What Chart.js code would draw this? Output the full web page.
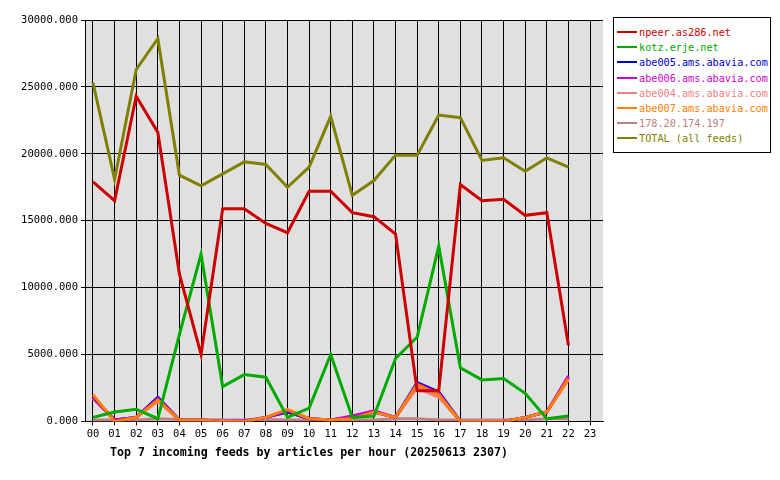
<!DOCTYPE html>
<html><head><meta charset="utf-8">
<script src="https://cdn.jsdelivr.net/npm/chart.js@4/dist/chart.umd.min.js"></script>
<style>
body{margin:0;background:#fff;}
#wrap{position:relative;width:780px;height:480px;}
#legend{position:absolute;left:613px;top:17px;width:158px;height:136px;border:1px solid #000;box-sizing:border-box;background:#fff;font:10.2px "DejaVu Sans Mono",monospace;padding-top:7px;}
#legend div{height:15.2px;line-height:15px;white-space:nowrap;padding-left:3px;}
#legend span.sw{display:inline-block;width:20px;height:2px;vertical-align:middle;margin-right:2px;position:relative;top:-1px;}
#title{position:absolute;left:110px;top:445px;font:bold 11.6px "DejaVu Sans Mono",monospace;}
</style></head><body>
<div id="wrap"><canvas id="c" width="780" height="480"></canvas><div id="legend"></div><div id="title">Top 7 incoming feeds by articles per hour (20250613 2307)</div></div>
<script>
const hours = ["00","01","02","03","04","05","06","07","08","09","10","11","12","13","14","15","16","17","18","19","20","21","22","23"];
const seriesNames = ["npeer.as286.net","kotz.erje.net","abe005.ams.abavia.com","abe006.ams.abavia.com","abe004.ams.abavia.com","abe007.ams.abavia.com","178.20.174.197","TOTAL (all feeds)"];
const seriesColors = ["#cc0000","#00aa00","#0000cc","#cc00cc","#f08080","#ff8000","#c08080","#808000"];
const npeer = [17900,16500,24300,21600,11000,5000,15900,15900,14800,14100,17200,17200,15600,15300,14000,2300,2300,17700,16500,16600,15400,15600,5700];
const kotz = [300,700,900,200,6500,12500,2600,3500,3300,300,1000,5000,300,400,4700,6300,13100,4000,3100,3200,2100,200,400];
const abe005 = [1800,100,300,1800,100,100,0,0,300,700,200,100,300,700,300,2900,2200,0,0,0,300,700,3300];
const abe006 = [1800,100,300,1700,100,100,0,50,300,800,200,100,400,800,300,2800,2100,0,0,0,300,700,3400];
const abe004 = [1700,100,300,1500,100,100,0,0,300,800,200,100,300,700,300,2500,1800,0,0,0,300,700,3100];
const abe007 = [2000,0,300,1600,100,100,0,0,300,900,200,100,200,700,300,2750,2000,0,0,0,300,700,3200];
const ip178 = [100,100,100,200,150,150,100,100,150,100,100,150,100,100,200,200,100,100,100,100,100,200,200];
const total = [25300,18100,26300,28600,18400,17600,18500,19400,19200,17500,19000,22800,16900,18000,19900,19900,22900,22700,19500,19700,18700,19700,19000];
const allData = [npeer,kotz,abe005,abe006,abe004,abe007,ip178,total];
const yTicks = [0,5000,10000,15000,20000,25000,30000];

// dataset 0 is drawn on top in Chart.js
const order = [7,0,1,5,3,2,4,6];
const datasets = order.map(i=>({
  label: seriesNames[i],
  data: allData[i].map((v,k)=>({x:k,y:v})),
  borderColor: seriesColors[i],
  borderWidth: 3, pointRadius: 0, tension: 0, fill:false
}));

const lg=document.getElementById('legend');
seriesNames.forEach((n,i)=>{const d=document.createElement('div');d.style.color=seriesColors[i];d.innerHTML='<span class="sw" style="background:'+seriesColors[i]+'"></span>'+n;lg.appendChild(d);});

const bg={id:'bg',beforeDraw(ch){const a=ch.chartArea,c=ch.ctx;c.save();c.fillStyle='#e0e0e0';c.fillRect(a.left,a.top,a.right-a.left,a.bottom-a.top);c.restore();}};

new Chart(document.getElementById('c'),{
  type:'line',
  data:{datasets},
  plugins:[bg],
  options:{
    responsive:false, animation:false,
    layout:{padding:{left:0,right:177,top:20,bottom:36}},
    plugins:{legend:{display:false},tooltip:{enabled:false}},
    scales:{
      x:{type:'linear',min:-0.37,max:23.6,
        afterBuildTicks(ax){ax.ticks=hours.map((h,i)=>({value:i}));},
        ticks:{color:'#000',font:{family:'DejaVu Sans Mono',size:10.5},maxRotation:0,autoSkip:false,callback:(v)=>hours[v]},
        grid:{color:'#000',lineWidth:1,drawTicks:true,tickLength:4},
        border:{color:'#000'}},
      y:{min:0,max:30000,
        afterBuildTicks(ax){ax.ticks=yTicks.map(v=>({value:v}));},
        afterFit(ax){ax.width=85;},
        ticks:{color:'#000',font:{family:'DejaVu Sans Mono',size:10.5},callback:v=>v.toFixed(3)},
        grid:{color:'#000',lineWidth:1,tickLength:4},
        border:{color:'#000'}}
    }
  }
});
</script></body></html>
